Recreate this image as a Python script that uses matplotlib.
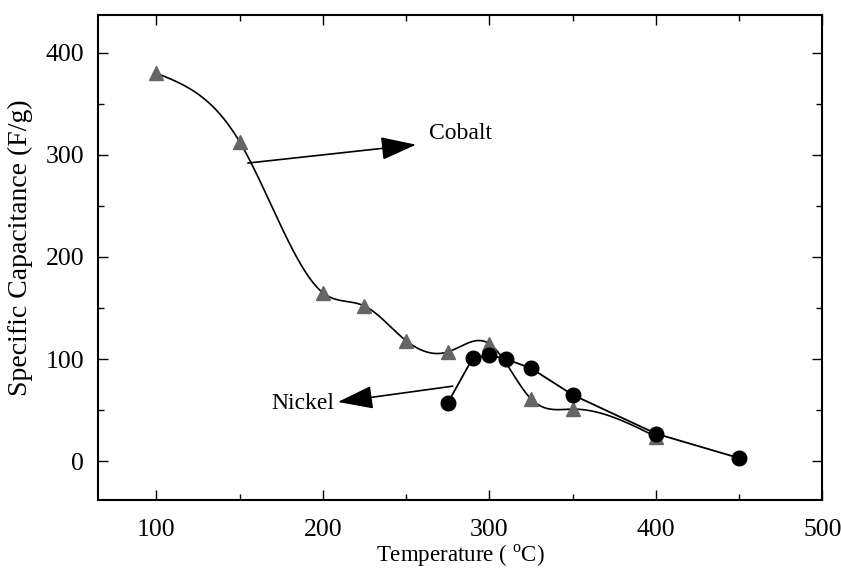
import matplotlib
matplotlib.use('Agg')
import matplotlib.pyplot as plt
from matplotlib.ticker import MultipleLocator
import numpy as np

plt.rcParams['font.family'] = ['Liberation Serif', 'DejaVu Serif']
plt.rcParams['mathtext.fontset'] = 'custom'
plt.rcParams['mathtext.rm'] = 'Liberation Serif'

# Cobalt (triangles) and nickel (circles) series
cobalt_temp = [100, 150, 200, 225, 250, 275, 300, 325, 350, 400]
cobalt_cap = [380, 313, 165, 152, 118, 107, 115, 61, 51, 24]
nickel_temp = [275, 290, 300, 310, 325, 350, 400, 450]
nickel_cap = [57, 101, 104, 100, 91, 65, 27, 3]


def natural_spline(x, y, xs):
    """Evaluate a natural cubic spline through (x, y) at xs."""
    x = np.asarray(x, float)
    y = np.asarray(y, float)
    n = len(x)
    h = np.diff(x)
    A = np.zeros((n, n))
    b = np.zeros(n)
    A[0, 0] = A[-1, -1] = 1.0
    for i in range(1, n - 1):
        A[i, i - 1] = h[i - 1]
        A[i, i] = 2 * (h[i - 1] + h[i])
        A[i, i + 1] = h[i]
        b[i] = 6 * ((y[i + 1] - y[i]) / h[i] - (y[i] - y[i - 1]) / h[i - 1])
    M = np.linalg.solve(A, b)
    idx = np.clip(np.searchsorted(x, xs) - 1, 0, n - 2)
    x0, x1 = x[idx], x[idx + 1]
    hh = x1 - x0
    t0 = x1 - xs
    t1 = xs - x0
    return (M[idx] * t0**3 / (6 * hh) + M[idx + 1] * t1**3 / (6 * hh)
            + (y[idx] / hh - M[idx] * hh / 6) * t0
            + (y[idx + 1] / hh - M[idx + 1] * hh / 6) * t1)


fig = plt.figure(figsize=(8.41, 5.73), dpi=100)
ax = fig.add_axes([0.1165, 0.1274, 0.8615, 0.8464])

xs = np.linspace(cobalt_temp[0], cobalt_temp[-1], 600)
ax.plot(xs, natural_spline(cobalt_temp, cobalt_cap, xs), color='black', lw=1.2, zorder=2)
ax.plot(cobalt_temp, cobalt_cap, linestyle='none', marker='^', markersize=9.5,
        color='#666666', zorder=3)
ax.plot(nickel_temp, nickel_cap, color='black', lw=1.3, marker='o', markersize=10.5,
        zorder=4)

arrow = dict(arrowstyle='-|>,head_length=1.1,head_width=0.36', color='black',
             lw=1.2, mutation_scale=20, shrinkA=0, shrinkB=0)
ax.annotate('', xy=(256, 310), xytext=(155, 292), arrowprops=arrow)
ax.text(264, 321, 'Cobalt', fontsize=17, va='center', ha='left')
ax.annotate('', xy=(209, 58), xytext=(278, 73.5), arrowprops=arrow)
ax.text(207, 57, 'Nickel', fontsize=17, va='center', ha='right')

ax.set_xlim(65, 500)
ax.set_ylim(-38, 437)
ax.xaxis.set_major_locator(MultipleLocator(100))
ax.xaxis.set_minor_locator(MultipleLocator(50))
ax.yaxis.set_major_locator(MultipleLocator(100))
ax.yaxis.set_minor_locator(MultipleLocator(50))
ax.tick_params(which='both', direction='in', top=True, right=True, labelsize=18.5,
               width=1.0)
ax.tick_params(axis='x', which='major', pad=14)
ax.tick_params(axis='y', which='major', pad=10)
ax.tick_params(which='major', length=7)
ax.tick_params(which='minor', length=4)
for s in ax.spines.values():
    s.set_linewidth(1.5)

ax.set_xlabel('Temperature ( $^{\\mathrm{o}}$C)', fontsize=16.5)
ax.xaxis.set_label_coords(0.5, -0.088)
ax.set_ylabel('Specific Capacitance (F/g)', fontsize=20)
ax.yaxis.set_label_coords(-0.09, 0.52)

fig.savefig('out.png', dpi=100)
